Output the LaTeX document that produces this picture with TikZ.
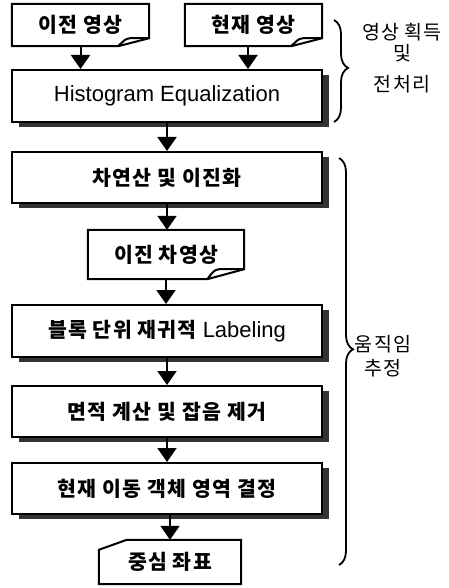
\documentclass[tikz,border=0pt]{standalone}
\usepackage{fontspec}
\setmainfont{Liberation Sans}
\newfontfamily\kr[LetterSpace=6]{Noto Sans CJK KR}
\usetikzlibrary{
    calc,
    arrows.meta,
    shadows,
    decorations.pathreplacing
}

% outline of a document with a curled lower right corner
\newcommand{\drawdoc}[3]{%
    \draw[outline] (#1.north west) -- (#1.north east)
        -- ([yshift=#3]#1.south east) -- ([xshift=-#2]#1.south east)
        -- (#1.south west) -- cycle;
    \draw[outline] ([xshift=-#2]#1.south east)
        .. controls ([xshift=-#2+7pt,yshift=#3-1pt]#1.south east) .. ([xshift=-#2+12pt,yshift=#3]#1.south east)
        -- ([yshift=#3]#1.south east);
}

\tikzset{
    procbox/.style={draw, fill=white, line width=2pt, inner sep=0pt,
        minimum width=310pt, minimum height=52pt,
        drop shadow={shadow xshift=7pt, shadow yshift=-5pt, fill=black!80, opacity=1},
        font=\kr\bfseries\fontsize{20.5}{22}\selectfont},
    docbox/.style={inner sep=0pt, font=\kr\bfseries\fontsize{20.5}{22}\selectfont},
    outline/.style={line width=2pt, line join=miter},
    flow/.style={line width=2pt, -{Triangle[width=19pt,length=14pt]}},
    grpbrace/.style={line width=1.8pt, decorate,
        decoration={brace, amplitude=14pt, aspect=0.47}},
    grplabel/.style={align=center, font=\kr\fontsize{19.5}{21}\selectfont}
}

\begin{document}
\begin{tikzpicture}[x=1pt, y=-1pt]
    \useasboundingbox (0,0) rectangle (448,588);

    % inputs
    \node[docbox, minimum width=137pt, minimum height=42pt] (prev) at (80.5,25) {이전 영상};
    \node[docbox, minimum width=137pt, minimum height=42pt] (curr) at (253.5,25) {현재 영상};
    \drawdoc{prev}{31pt}{8pt}
    \drawdoc{curr}{31pt}{8pt}

    % processing steps
    \node[procbox] (hist) at (167,96) {\rmfamily\mdseries\fontsize{22}{24}\selectfont Histogram Equalization};
    \node[procbox, minimum height=51pt] (diff) at (167,177.5) {차연산 및 이진화};
    \node[docbox, minimum width=156pt, minimum height=49pt] (bin) at (166,254.5) {이진 차영상};
    \drawdoc{bin}{37pt}{10pt}
    \node[procbox] (label) at (167,331) {블록 단위 재귀적 {\rmfamily\mdseries\fontsize{22}{24}\selectfont Labeling}};
    \node[procbox, minimum height=51pt] (area) at (167,411.5) {면적 계산 및 잡음 제거};
    \node[procbox, minimum height=51pt] (obj) at (167,488.5) {현재 이동 객체 영역 결정};

    % output
    \node[docbox, minimum width=142pt, minimum height=44pt] (cent) at (170,562) {중심 좌표};
    \draw[outline] ([yshift=-10pt]cent.north west) -- ([xshift=28pt]cent.north west)
        -- (cent.north east) -- (cent.south east) -- (cent.south west) -- cycle;

    % arrows
    \draw[flow] (prev.south) -- (prev.south |- hist.north);
    \draw[flow] ([xshift=-5.5pt]curr.south) -- ([xshift=-5.5pt]curr.south |- hist.north);
    \draw[flow] (hist.south) -- (diff.north);
    \draw[flow] (diff.south) -- (diff.south |- bin.north);
    \draw[flow] (bin.south) -- (bin.south |- label.north);
    \draw[flow] (label.south) -- (area.north);
    \draw[flow] (area.south) -- (obj.north);
    \draw[flow] ([xshift=3pt]obj.south) -- ([xshift=3pt]obj.south |- cent.north);

    % groups
    \draw[grpbrace] (334,20) -- (334,122);
    \node[grplabel] (acq) at (402,58) {영상 획득\\및\\[10pt]전처리};
    \draw[grpbrace] (339,158) -- (339,565);
    \node[grplabel, font=\kr\fontsize{19.5}{24}\selectfont] (motion) at (383,356) {움직임\\추정};
\end{tikzpicture}
\end{document}
